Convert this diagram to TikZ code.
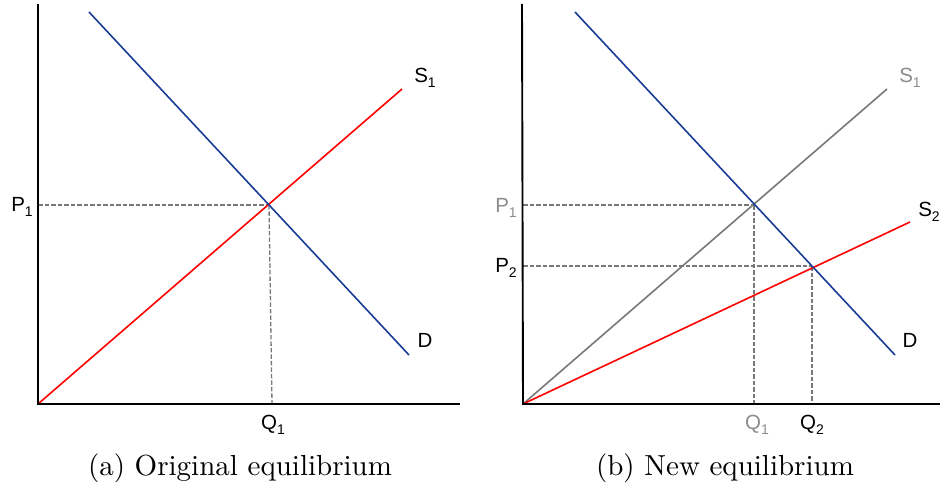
\documentclass[tikz,border=0pt]{standalone}
\usepackage{fontspec}
\newfontfamily\labfont{Liberation Sans}
\newfontfamily\capfont{lmroman10-regular}[Extension=.otf]
\definecolor{dblue}{RGB}{25,60,150}
\definecolor{sred}{RGB}{255,0,0}
\definecolor{sgray}{RGB}{120,120,120}
\definecolor{lgray}{RGB}{140,140,140}
\newcommand{\sublab}[2]{#1\raisebox{-5.5pt}{\fontsize{14}{14}\selectfont #2}}
\begin{document}
\begin{tikzpicture}[x=1pt,y=-1pt,
  axis/.style={line width=1.9pt,black},
  demand/.style={line width=1.6pt,dblue},
  supply/.style={line width=1.6pt,sred},
  oldsupply/.style={line width=1.6pt,sgray},
  guide/.style={line width=1.3pt,sgray,dash pattern=on 4.5pt off 2pt},
  lab/.style={font=\labfont\fontsize{20.5}{20.5}\selectfont,inner sep=0pt},
  glab/.style={lab,text=lgray},
  captext/.style={font=\capfont\fontsize{29}{35}\selectfont,inner sep=0pt}]
\useasboundingbox (0,0) rectangle (940,492);
% ---------- panel (a) ----------
\coordinate (aO) at (38,404);
\coordinate (aY) at (38,4);
\coordinate (aX) at (460,404);
\coordinate (aD1) at (89,12);
\coordinate (aD2) at (409,355);
\coordinate (aS2) at (402,89);
\coordinate (aE) at (269,205);
\coordinate (aEy) at (38,205);
\coordinate (aEx) at (272,404);
\draw[guide] (aEy) -- (aE);
\draw[guide] (aE) -- (aEx);
\draw[supply] (aO) -- (aS2);
\draw[demand] (aD1) -- (aD2);
\draw[axis] (aY) -- (aO) -- (aX);
\node[lab] (aP1) at (22,207) {\sublab{P}{1}};
\node[lab] (aQ1) at (273,425) {\sublab{Q}{1}};
\node[lab] (aS1l) at (425,78) {\sublab{S}{1}};
\node[lab] (aDl) at (425,340) {D};
\node[captext] (capa) at (240,468) {(a) Original equilibrium};
% ---------- panel (b) ----------
\coordinate (bO) at (523,404);
\coordinate (bY) at (522,4);
\coordinate (bX) at (940,404);
\coordinate (bD1) at (575,12);
\coordinate (bD2) at (895,355);
\coordinate (bS1e) at (887,89);
\coordinate (bS2e) at (910,222);
\coordinate (bE1) at (754,205);
\coordinate (bE1y) at (523,205);
\coordinate (bE1x) at (754,404);
\coordinate (bE2) at (812,266);
\coordinate (bE2y) at (523,266);
\coordinate (bE2x) at (812,404);
\draw[guide] (bE1y) -- (bE1);
\draw[guide] (bE1) -- (bE1x);
\draw[guide] (bE2y) -- (bE2);
\draw[guide] (bE2) -- (bE2x);
\draw[oldsupply] (bO) -- (bS1e);
\draw[supply] (bO) -- (bS2e);
\draw[demand] (bD1) -- (bD2);
\draw[axis] (bY) -- (bO) -- (bX);
\node[glab] (bP1) at (506,208) {\sublab{P}{1}};
\node[lab] (bP2) at (506,268) {\sublab{P}{2}};
\node[glab] (bQ1) at (757,425) {\sublab{Q}{1}};
\node[lab] (bQ2) at (812,425) {\sublab{Q}{2}};
\node[glab] (bS1l) at (910,78) {\sublab{S}{1}};
\node[lab] (bS2l) at (929,212) {\sublab{S}{2}};
\node[lab] (bDl) at (910,340) {D};
\node[captext] (capb) at (725,468) {(b) New equilibrium};
\end{tikzpicture}
\end{document}
